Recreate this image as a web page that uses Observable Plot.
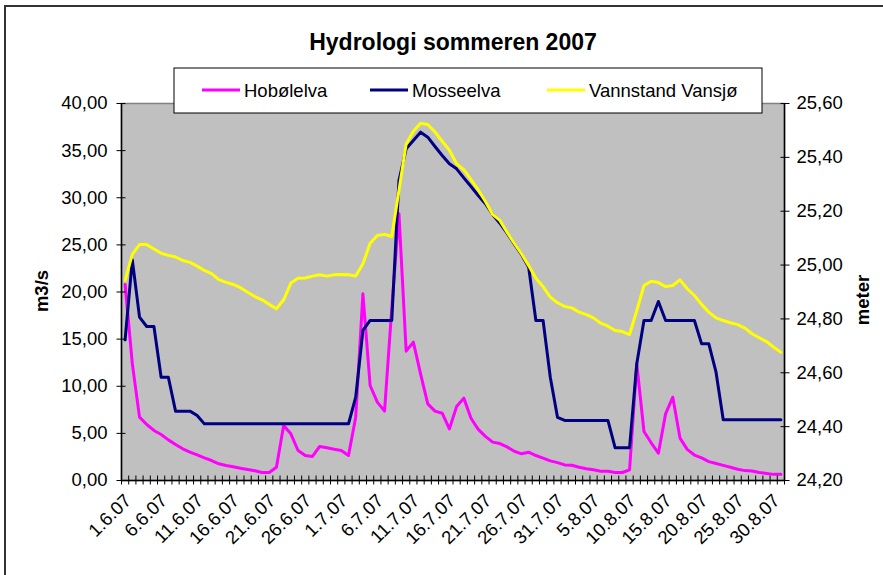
<!DOCTYPE html>
<html><head><meta charset="utf-8">
<script src="https://cdn.jsdelivr.net/npm/d3@7"></script>
<script src="https://cdn.jsdelivr.net/npm/@observablehq/plot@0.6"></script>
<style>
body{margin:0;background:#fff;}
#chart{position:relative;width:883px;height:575px;overflow:hidden;}
#chart svg{display:block;}
</style></head><body><div id="chart"></div>
<script>
// Categories: daily, 1.6.07 – 31.8.07
const dates = d3.timeDay.range(new Date(2007, 5, 1), new Date(2007, 8, 1)).map(d3.timeFormat("%-d.%-m.%y"));
const dateTickLabels = ["1.6.07","6.6.07","11.6.07","16.6.07","21.6.07","26.6.07","1.7.07","6.7.07","11.7.07","16.7.07","21.7.07","26.7.07","31.7.07","5.8.07","10.8.07","15.8.07","20.8.07","25.8.07","30.8.07"];

// Hobølelva (m3/s)
const hobolelva = [20.8,12.4,6.72,5.94,5.31,4.88,4.31,3.82,3.36,3.01,2.72,2.40,2.12,1.77,1.59,1.45,1.31,1.17,1.03,0.85,0.85,1.41,5.84,4.95,3.18,2.65,2.55,3.61,3.47,3.32,
3.18,2.65,6.72,19.81,10.08,8.31,7.36,18.21,28.29,13.72,14.68,11.32,8.13,7.36,7.14,5.48,7.85,8.74,6.60,5.42,4.68,4.07,3.92,3.57,3.10,2.83,3.00,2.65,2.38,2.08,1.90,
1.65,1.62,1.41,1.24,1.13,0.99,0.99,0.85,0.85,1.13,12.38,5.2,4.0,2.9,7.07,8.84,4.5,3.3,2.7,2.4,2.0,1.8,1.6,1.4,1.2,1.05,1.0,0.85,0.75,0.65,0.65];

// Mosseelva (m3/s)
const mosseelva = [14.92,23.41,17.33,16.34,16.34,10.96,10.96,7.36,7.36,7.36,6.90,6.01,6.01,6.01,6.01,6.01,6.01,6.01,6.01,6.01,6.01,6.01,6.01,6.01,6.01,6.01,6.01,6.01,6.01,6.01,
6.01,6.01,8.84,15.92,16.98,16.98,16.98,16.98,31.83,35.19,36.07,36.96,36.43,35.44,34.48,33.6,33.07,32.11,31.19,30.24,29.36,28.22,27.30,26.24,25.11,23.98,22.63,16.98,16.98,10.96,6.7,
6.37,6.37,6.37,6.37,6.37,6.37,6.37,3.47,3.47,3.47,12.38,16.98,16.98,18.99,16.98,16.98,16.98,16.98,16.98,14.50,14.50,11.49,6.44,6.44,6.44,6.44,6.44,6.44,6.44,6.44,6.44];

// Vannstand Vansjø (meter, right axis)
const vannstand = [24.943,25.040,25.076,25.076,25.060,25.044,25.036,25.030,25.017,25.010,24.996,24.980,24.968,24.946,24.936,24.928,24.916,24.899,24.883,24.871,24.854,24.838,24.871,24.933,24.951,24.952,24.959,24.964,24.959,24.964,
24.965,24.964,24.959,25.005,25.081,25.110,25.114,25.106,25.277,25.450,25.497,25.527,25.522,25.494,25.460,25.427,25.376,25.354,25.317,25.279,25.236,25.188,25.166,25.122,25.081,25.042,24.998,24.951,24.920,24.881,24.860,
24.846,24.841,24.825,24.816,24.804,24.784,24.773,24.757,24.753,24.742,24.831,24.924,24.940,24.935,24.920,24.924,24.945,24.912,24.887,24.854,24.825,24.804,24.794,24.786,24.779,24.766,24.745,24.730,24.716,24.695,24.676];

const leftTicks = [0,5,10,15,20,25,30,35,40];
const rightTicks = [24.2,24.4,24.6,24.8,25.0,25.2,25.4,25.6];
const seriesNames = ["Hobølelva","Mosseelva","Vannstand Vansjø"];
const seriesColors = ["#ff00ff","#000080","#ffff00"];

const lMin = leftTicks[0], lMax = leftTicks[leftTicks.length-1];
const rMin = rightTicks[0], rMax = rightTicks[rightTicks.length-1];
const toLeft = m => (m - rMin) / (rMax - rMin) * (lMax - lMin) + lMin;
const toRight = v => (v - lMin) / (lMax - lMin) * (rMax - rMin) + rMin;
const fmt = v => v.toFixed(2).replace(".", ",");

const rows = dates.map((d, i) => ({i, d, hob: hobolelva[i], mos: mosseelva[i], van: toLeft(vannstand[i])}));
const xDom = [-0.5, dates.length - 0.5];
const boundaries = d3.range(xDom[0], xDom[1] + 0.01, 1);
const labelIdx = dateTickLabels.map(l => dates.indexOf(l));
const FONT = "Arial, 'Liberation Sans', sans-serif";

const plot = Plot.plot({
  width: 883, height: 575,
  marginLeft: 121, marginRight: 99, marginTop: 103, marginBottom: 95,
  style: {fontFamily: FONT, fontSize: "18.5px", background: "transparent", color: "#000", overflow: "visible"},
  x: {type: "linear", domain: xDom, axis: null},
  y: {domain: [lMin, lMax], axis: null},
  marks: [
    Plot.frame({fill: "#c0c0c0", stroke: "#808080", strokeWidth: 1.5}),
    Plot.lineY(rows, {x: "i", y: "hob", stroke: seriesColors[0], strokeWidth: 3}),
    Plot.lineY(rows, {x: "i", y: "mos", stroke: seriesColors[1], strokeWidth: 3}),
    Plot.lineY(rows, {x: "i", y: "van", stroke: seriesColors[2], strokeWidth: 3}),
    Plot.ruleX([xDom[0], xDom[1]], {stroke: "#000", strokeWidth: 1.5}),
    Plot.ruleY([lMin], {stroke: "#000", strokeWidth: 1.5}),
    Plot.axisY(leftTicks, {anchor: "left", tickSize: 9, dx: 4.5, tickFormat: () => "", label: null}),
    Plot.axisY(leftTicks, {anchor: "left", tickSize: 0, tickPadding: 14, tickFormat: fmt, fontSize: 18.5, label: null}),
    Plot.axisY(rightTicks.map(toLeft), {anchor: "right", tickSize: 9, dx: -4.5, tickFormat: () => "", label: null}),
    Plot.axisY(rightTicks.map(toLeft), {anchor: "right", tickSize: 0, tickPadding: 12, tickFormat: v => fmt(toRight(v)), fontSize: 18.5, label: null}),
    Plot.axisX(boundaries, {anchor: "bottom", tickSize: 9, dy: -4.5, tickFormat: () => "", label: null}),
    Plot.axisX(labelIdx, {anchor: "bottom", tickSize: 0, tickPadding: 8, dy: 9, dx: 3, tickRotate: -45, tickFormat: i => dates[i], fontSize: 18.5, label: null})
  ]
});
document.getElementById("chart").appendChild(plot);

const svg = d3.select(plot);
// outer chart border
svg.insert("rect", ":first-child").attr("x", 5).attr("y", 6).attr("width", 900).attr("height", 600)
  .attr("fill", "#fff").attr("stroke", "#333").attr("stroke-width", 2);
// title
svg.append("text").attr("x", 453).attr("y", 50).attr("text-anchor", "middle")
  .attr("font-family", FONT).attr("font-weight", "bold").attr("font-size", 23).text("Hydrologi sommeren 2007");
// axis titles
svg.append("text").attr("transform", "translate(48,291) rotate(-90)").attr("text-anchor", "middle")
  .attr("font-family", FONT).attr("font-weight", "bold").attr("font-size", 18.5).text("m3/s");
svg.append("text").attr("transform", "translate(869,300) rotate(-90)").attr("text-anchor", "middle")
  .attr("font-family", FONT).attr("font-weight", "bold").attr("font-size", 18.5).text("meter");
// legend
const lg = svg.append("g");
lg.append("rect").attr("x", 174).attr("y", 68).attr("width", 588).attr("height", 45)
  .attr("fill", "#fff").attr("stroke", "#000").attr("stroke-width", 1);
const items = [{x0: 202, x1: 240, tx: 244}, {x0: 370, x1: 408, tx: 412}, {x0: 547, x1: 585, tx: 589}];
items.forEach((it, k) => {
  lg.append("line").attr("x1", it.x0).attr("x2", it.x1).attr("y1", 90).attr("y2", 90)
    .attr("stroke", seriesColors[k]).attr("stroke-width", 3);
  lg.append("text").attr("x", it.tx).attr("y", 97).attr("text-anchor", "start")
    .attr("font-family", FONT).attr("font-size", 18.5).text(seriesNames[k]);
});
</script></body></html>
